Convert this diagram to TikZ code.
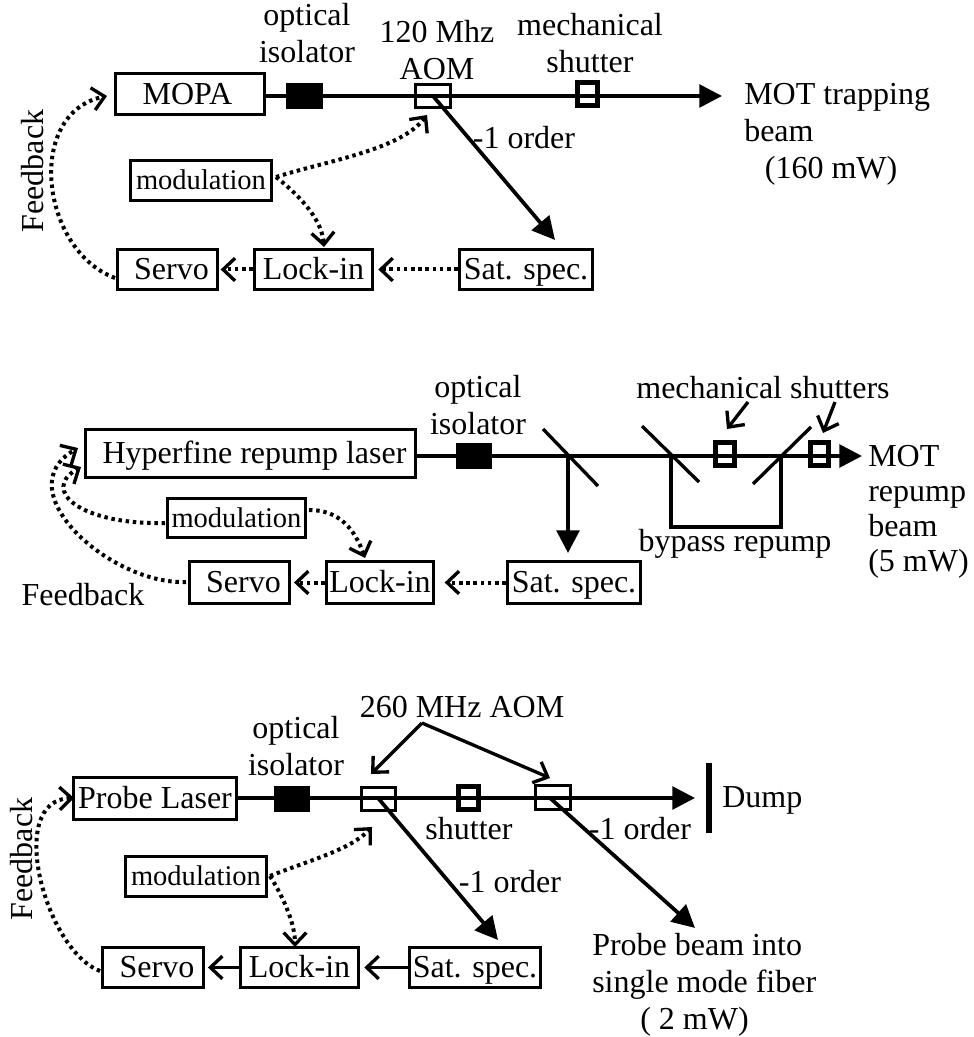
\documentclass[tikz,border=0pt]{standalone}
\usepackage{fontspec}
\setmainfont{Liberation Serif}
\usetikzlibrary{arrows.meta}
\newcommand\bx[7]{\node[#6,minimum width={(#4-#2-3)*0.75pt},minimum height={(#5-#3-3)*0.75pt}] (#1) at ({(#2+#4)/2},{(#3+#5)/2}) {#7};}
\tikzset{
  x=0.75pt,y=-0.75pt,
  box/.style={draw=black,line width=2.7pt,inner sep=0pt,text height=18pt,text depth=2.5pt,font=\fontsize{24}{27}\selectfont},
  modbox/.style={box,text height=15pt,text depth=1pt,font=\fontsize{21.4}{25}\selectfont},
  iso/.style={draw=black,fill=black,line width=0.5pt,inner sep=0pt},
  aom/.style={draw=black,line width=2.5pt,inner sep=0pt},
  shut/.style={draw=black,line width=3.4pt,inner sep=0pt},
  lbl/.style={inner sep=0pt,font=\fontsize{24}{27.75}\selectfont},
  beam/.style={draw=black,line width=2.8pt},
  beamto/.style={beam,-{Triangle[length=17pt,width=17pt]}},
  pointer/.style={draw=black,line width=2.5pt,-{Straight Barb[length=9pt,width=17pt,line width=2.5pt]}},
  thinline/.style={draw=black,line width=2.5pt},
  fb/.style={draw=black,line width=3pt,dash pattern=on 2.6pt off 2.8pt,-{Straight Barb[length=9pt,width=17pt,line width=2.5pt]}},
}
\begin{document}
\begin{tikzpicture}
\useasboundingbox (0,0) rectangle (973,1037);
% ---------- top
\bx{mopa}{114}{72}{266}{116}{box}{MOPA\hspace*{4pt}}
\bx{isoA}{285}{82}{324}{110}{iso}{}
\bx{aomA}{414}{83}{452}{109}{aom}{}
\bx{shutA}{576}{81}{599}{107}{shut}{}
\bx{modA}{129}{159}{273}{202}{modbox}{modulation}
\bx{servoA}{116}{248}{219}{291}{box}{\hspace*{6pt}Servo}
\bx{lockA}{253}{248}{374}{291}{box}{Lock-in}
\bx{satA}{458}{248}{594}{291}{box}{Sat. spec.}
\node[lbl,align=center] (tOptA) at (307,33) {optical\\isolator};
\node[lbl,align=center] (tAomA) at (437,50) {120 Mhz\\AOM};
\node[lbl,align=center] (tMechA) at (590,43) {mechanical\\shutter};
\node[lbl,anchor=west,align=left] (tMot) at (744,134) {MOT trapping\\beam\\\hspace*{15.5pt}(160 mW)};
\node[lbl] (tOrdA) at (524,138) {-1 order};
\node[lbl,rotate=90] (tFbA) at (33,171) {Feedback};
\coordinate (endA) at (722,96);
\coordinate (tipA) at (555,240);
\coordinate (fbA1) at (115,278);
\coordinate (fbA2) at (107,96);
\coordinate (mA1) at (276,177);
\coordinate (mA2) at (427,115);
\coordinate (mA3) at (324,247);
\draw[beamto] (mopa.east |- endA) -- (endA);
\draw[beamto] (aomA.center) -- (tipA);
\draw[fb] (fbA1) .. controls (40,250) and (25,113) .. (fbA2);
\draw[fb] (mA1) .. controls (330,160) and (400,150) .. (mA2);
\draw[fb] (mA1) .. controls (305,200) and (322,222) .. (mA3);
\draw[fb,shorten >=1pt] (lockA.west) -- (servoA.east);
\draw[fb,shorten >=3pt] (satA.west) -- (lockA.east);
% ---------- middle
\bx{laser}{84}{428}{417}{479}{box}{\hspace*{6pt}Hyperfine repump laser}
\bx{isoB}{455}{442}{493}{470}{iso}{}
\bx{shutB}{714}{441}{736}{467}{shut}{}
\bx{shutC}{809}{441}{830}{467}{shut}{}
\bx{modB}{166}{497}{307}{539}{modbox}{modulation}
\bx{servoB}{188}{560}{291}{605}{box}{\hspace*{6pt}Servo}
\bx{lockB}{325}{560}{435}{605}{box}{Lock-in}
\bx{satB}{506}{560}{642}{605}{box}{Sat. spec.}
\node[lbl,align=center] (tOptB) at (478,405) {optical\\isolator};
\node[lbl] (tMechB) at (763,388) {mechanical shutters};
\node[lbl] (tByp) at (735,544) {bypass repump};
\node[lbl,anchor=west,align=left,font=\fontsize{24}{26.25}\selectfont] (tRep) at (868,512) {MOT\\repump\\beam\\(5 mW)};
\node[lbl] (tFbB) at (83,595) {Feedback};
\coordinate (endB) at (862,456);
\coordinate (splitB) at (568,456);
\coordinate (tipB) at (568,553);
\coordinate (m1a) at (543,429); \coordinate (m1b) at (598,486);
\coordinate (m2a) at (642,426); \coordinate (m2b) at (699,482);
\coordinate (m3a) at (811,427); \coordinate (m3b) at (753,484);
\coordinate (by1) at (671,456); \coordinate (by2) at (671,527);
\coordinate (by3) at (781,527); \coordinate (by4) at (781,456);
\coordinate (pS1) at (748,402); \coordinate (pS2) at (727,429);
\coordinate (pS3) at (835,402); \coordinate (pS4) at (823,433);
\coordinate (fbB1) at (186,582); \coordinate (fbB2) at (78,448);
\coordinate (fbB3) at (81,467); \coordinate (fbB4) at (165,523);
\coordinate (mB1) at (309,510); \coordinate (mB2) at (365,558);
\draw[beamto] (laser.east |- endB) -- (endB);
\draw[beamto] (splitB) -- (tipB);
\draw[thinline] (m1a) -- (m1b);
\draw[thinline] (m2a) -- (m2b);
\draw[thinline] (m3a) -- (m3b);
\draw[thinline] (by1) -- (by2) -- (by3) -- (by4);
\draw[pointer] (pS1) -- (pS2);
\draw[pointer] (pS3) -- (pS4);
\draw[fb] (fbB1) .. controls (110,585) and (5,490) .. (fbB2);
\draw[fb] (fbB4) .. controls (80,525) and (40,490) .. (fbB3);
\draw[fb] (mB1) .. controls (340,510) and (355,530) .. (mB2);
\draw[fb,shorten >=2pt] (lockB.west) -- (servoB.east);
\draw[fb,shorten >=7pt] (satB.west) -- (lockB.east);
% ---------- bottom
\bx{probe}{72}{776}{238}{821}{box}{Probe Laser}
\bx{isoC}{273}{785}{311}{813}{iso}{}
\bx{aomC}{360}{786}{397}{812}{aom}{}
\bx{shutD}{457}{785}{480}{811}{shut}{}
\bx{aomD}{534}{784}{572}{811}{aom}{}
\bx{modC}{124}{855}{268}{898}{modbox}{modulation}
\bx{servoC}{101}{946}{205}{989}{box}{\hspace*{6pt}Servo}
\bx{lockC}{239}{946}{360}{989}{box}{Lock-in}
\bx{satC}{408}{946}{542}{989}{box}{Sat. spec.}
\node[lbl] (tAomC) at (462,707) {260 MHz AOM};
\node[lbl,align=center] (tOptC) at (296,746) {optical\\isolator};
\node[lbl] (tShut) at (469,829) {shutter};
\node[lbl] (tOrdC) at (640,829) {-1 order};
\node[lbl] (tOrdD) at (510,882) {-1 order};
\node[lbl,anchor=west] (tDump) at (722,800) {Dump};
\node[lbl,rotate=90] (tFbC) at (22,859) {Feedback};
\node[lbl,anchor=west,align=left] (tProbe) at (592,985) {Probe beam into\\single mode fiber\\\hspace*{36pt}( 2 mW)};
\coordinate (endC) at (695,798);
\coordinate (dumpA) at (709,763); \coordinate (dumpB) at (709,833);
\coordinate (apex) at (422,723);
\coordinate (pC1) at (371,774); \coordinate (pC2) at (550,778);
\coordinate (tipC) at (498,940); \coordinate (tipD) at (695,928);
\coordinate (srcC) at (378,798); \coordinate (srcD) at (550,798);
\coordinate (fbC1) at (100,971); \coordinate (fbC2) at (74,798);
\coordinate (mC1) at (270,876); \coordinate (mC2) at (372,827); \coordinate (mC3) at (295,947);
\draw[beamto] (probe.east |- endC) -- (endC);
\draw[draw=black,line width=5pt] (dumpA) -- (dumpB);
\draw[pointer] (apex) -- (pC1);
\draw[pointer] (apex) -- (pC2);
\draw[beamto] (srcC) -- (tipC);
\draw[beamto] (srcD) -- (tipD);
\draw[fb] (fbC1) .. controls (45,950) and (5,800) .. (fbC2);
\draw[fb] (mC1) .. controls (310,860) and (350,850) .. (mC2);
\draw[fb] (mC1) .. controls (285,900) and (295,925) .. (mC3);
\draw[pointer,shorten >=2pt] (lockC.west) -- (servoC.east);
\draw[pointer,shorten >=3pt] (satC.west) -- (lockC.east);
\end{tikzpicture}
\end{document}
